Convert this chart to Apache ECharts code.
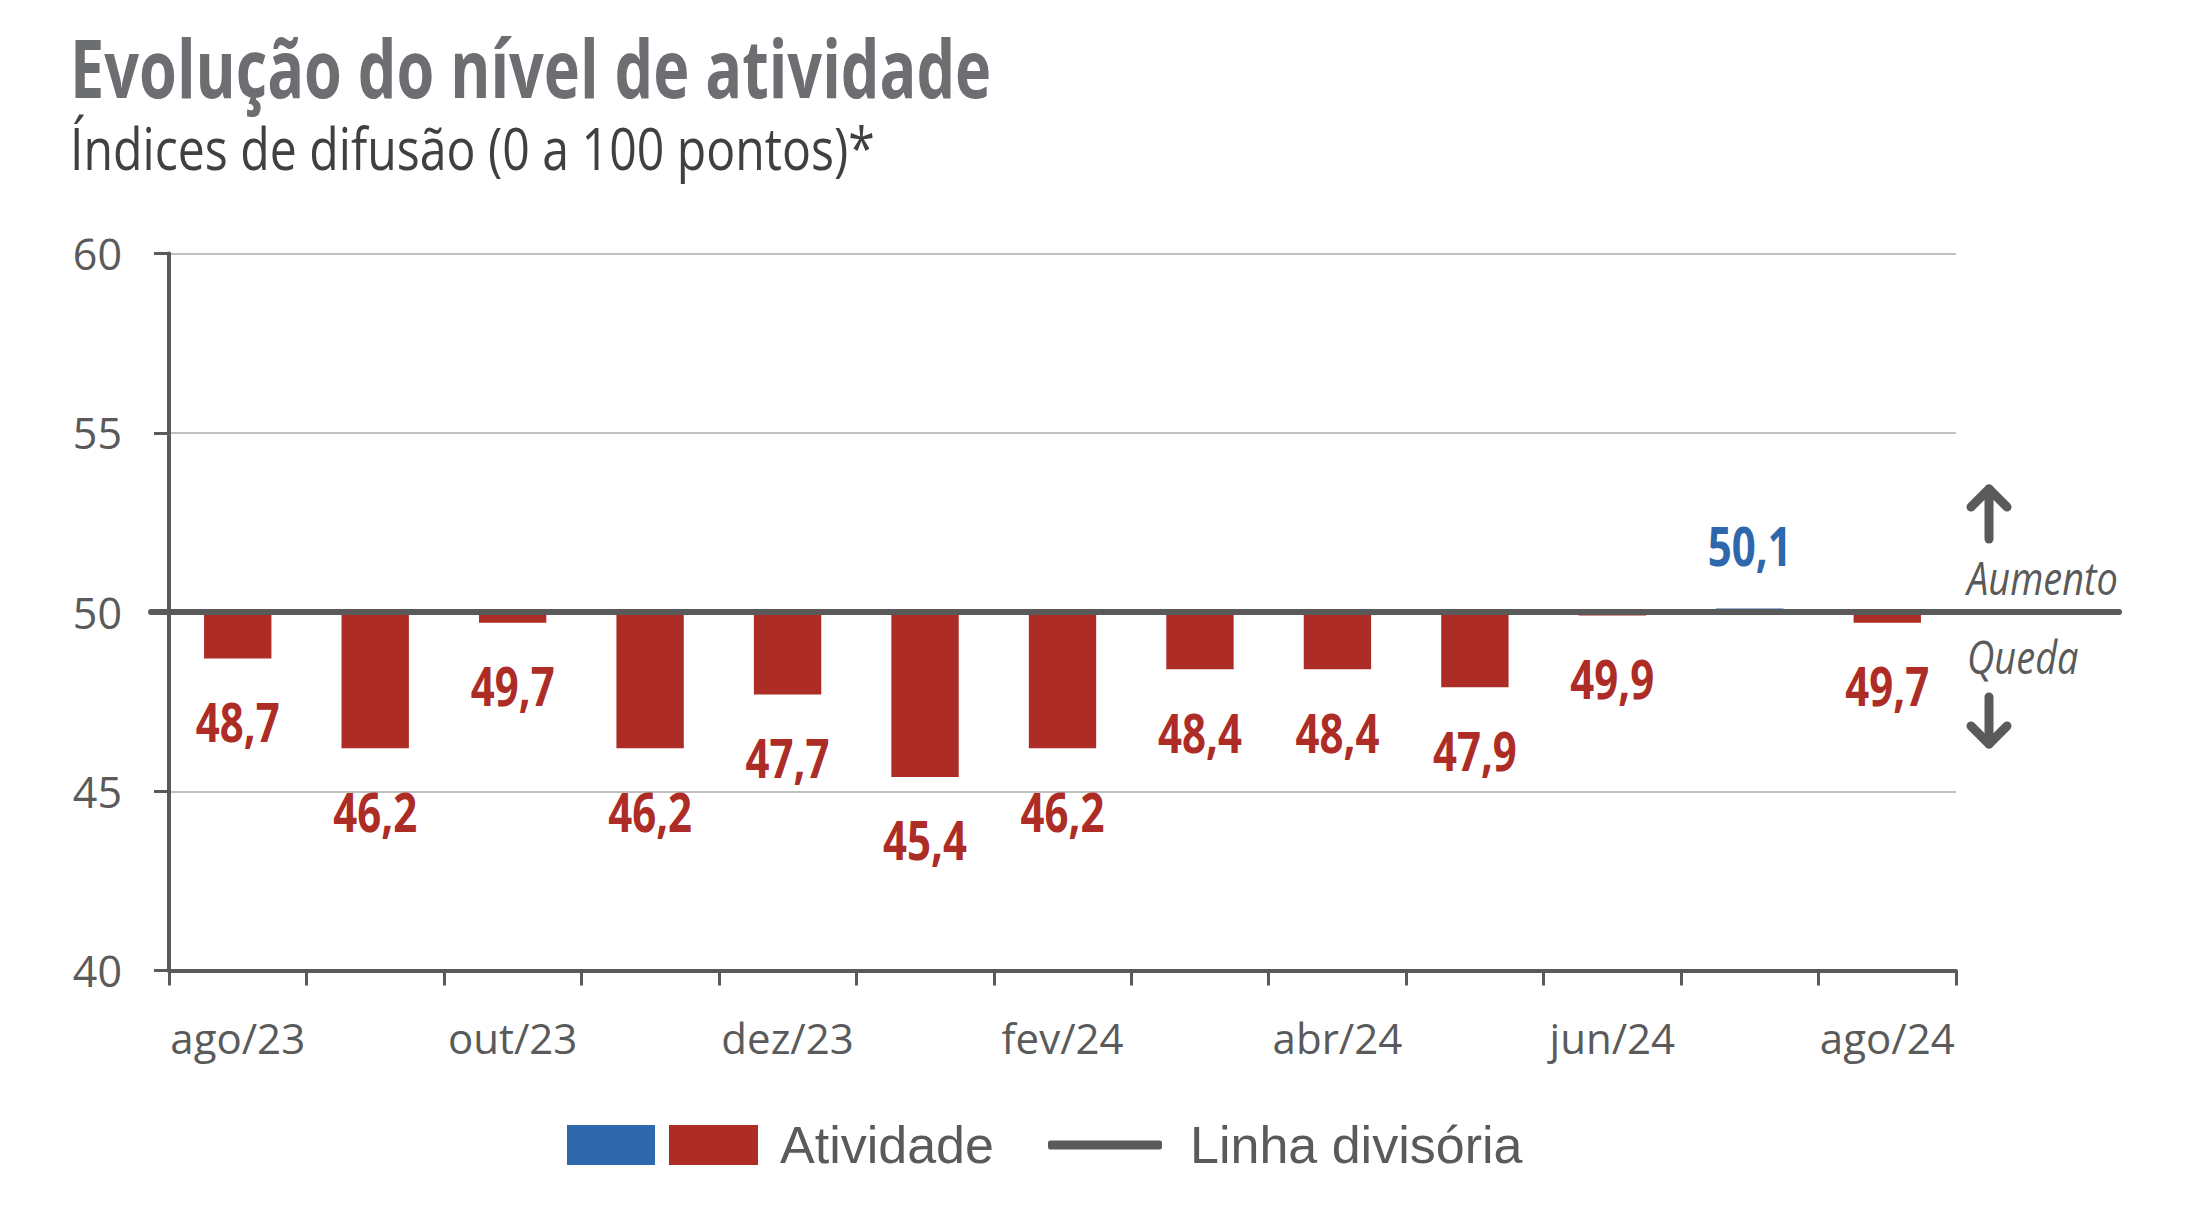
<!DOCTYPE html>
<html><head><meta charset="utf-8">
<script src="https://cdn.jsdelivr.net/npm/echarts@6/dist/echarts.min.js"></script>
<style>html,body{margin:0;padding:0;background:#fff}#c{width:2196px;height:1218px}</style>
</head><body><div id="c"></div>
<script>
const categories = ['ago/23','set/23','out/23','nov/23','dez/23','jan/24','fev/24','mar/24','abr/24','mai/24','jun/24','jul/24','ago/24'];
const atividade = [48.7,46.2,49.7,46.2,47.7,45.4,46.2,48.4,48.4,47.9,49.9,50.1,49.7];
const linhaDivisoria = 50;
const yMin = 40, yMax = 60, yStep = 5;

const RED = '#AD2C25', BLUE = '#2E67AC', GRAY = '#5A5A5A';
const HUM = '"Open Sans", "Noto Sans", sans-serif';
const SANS = '"Liberation Sans", Arial, sans-serif';

const mctx = document.createElement('canvas').getContext('2d');
function fit(text, font, target){
  mctx.font = font;
  const w = mctx.measureText(text).width;
  return w > 0 ? target / w : 1;
}
function fmt(v){ return v.toFixed(1).replace('.', ','); }

const LABEL_FONT = 'bold 53px ' + HUM;
const labelScale = fit('48,7', LABEL_FONT, 84);

function makeRender(color){
  return function(params, api){
    const i = api.value(0), v = api.value(1);
    if (isNaN(v)) return null;
    const p1 = api.coord([i, v]), p0 = api.coord([i, linhaDivisoria]);
    const w = api.size([1, 0])[0] * 0.49;
    const top = Math.min(p0[1], p1[1]), h = Math.abs(p1[1] - p0[1]);
    const above = v >= linhaDivisoria;
    return {type:'group', children:[
      {type:'rect', shape:{x:p1[0]-w/2, y:top, width:w, height:h}, style:{fill:color}},
      {type:'text', x:p1[0], y: above ? top-63 : top+h+63, scaleX:labelScale,
       style:{text:fmt(v), fill:color, font:LABEL_FONT, align:'center', verticalAlign:'middle'}}
    ]};
  };
}

const upData = [], downData = [];
atividade.forEach((v, i) => { (v >= linhaDivisoria ? upData : downData).push([i, v]); });

const TITLE = 'Evolução do nível de atividade';
const SUB = 'Índices de difusão (0 a 100 pontos)*';
const TITLE_FONT = 'bold 81px ' + HUM, SUB_FONT = '59px ' + HUM, NOTE_FONT = 'italic 46px ' + HUM;

const chart = echarts.init(document.getElementById('c'), null, {renderer:'svg'});
const arrowX = 1989;
const gridTop = 253.5, gridBottom = 247.5;
chart.setOption({
  animation:false,
  backgroundColor:'#fff',
  grid:[
    {left:169, right:240, top:gridTop, bottom:gridBottom},
    {left:151, right:77, top:gridTop, bottom:gridBottom}
  ],
  xAxis:[{
    type:'category', data:categories, boundaryGap:true, gridIndex:0,
    axisLine:{lineStyle:{color:GRAY, width:4}},
    axisTick:{show:true, interval:0, length:15, lineStyle:{color:GRAY, width:3}},
    axisLabel:{interval:1, margin:46, fontSize:42, fontFamily:HUM, color:GRAY},
    splitLine:{show:false}
  },{
    type:'value', gridIndex:1, min:0, max:1, show:false
  }],
  yAxis:[{
    type:'value', gridIndex:0, min:yMin, max:yMax, interval:yStep,
    axisLine:{show:true, lineStyle:{color:GRAY, width:4}},
    axisTick:{show:true, length:15, lineStyle:{color:GRAY, width:3}},
    axisLabel:{margin:47, fontSize:43, fontFamily:HUM, color:GRAY},
    splitLine:{show:true, lineStyle:{color:'#C0C0C0', width:2}}
  },{
    type:'value', gridIndex:1, min:yMin, max:yMax, show:false
  }],
  legend:[{
    data:['Aumento'], left:567, top:1125, padding:0, itemWidth:88, itemHeight:40, icon:'rect',
    formatter:function(){return '';}, selectedMode:false, textStyle:{fontSize:10}
  },{
    data:['Atividade'], left:669, top:1119, padding:0, itemWidth:89, itemHeight:40, icon:'rect', selectedMode:false,
    textStyle:{fontSize:52, fontFamily:SANS, color:GRAY, padding:[0,0,0,17]}
  },{
    data:['Linha divisória'], left:1048, top:1119, padding:0, itemWidth:114, itemHeight:9, icon:'roundRect', selectedMode:false,
    textStyle:{fontSize:52, fontFamily:SANS, color:GRAY, padding:[0,0,0,23]}
  }],
  series:[{
    name:'Aumento', type:'custom', data:upData, encode:{x:0, y:1}, renderItem:makeRender(BLUE),
    itemStyle:{color:BLUE}, z:2
  },{
    name:'Atividade', type:'custom', data:downData, encode:{x:0, y:1}, renderItem:makeRender(RED),
    itemStyle:{color:RED}, z:2
  },{
    name:'Linha divisória', type:'line', xAxisIndex:1, yAxisIndex:1, symbol:'none', z:5,
    data:[[0, linhaDivisoria],[1, linhaDivisoria]],
    lineStyle:{color:GRAY, width:6, cap:'round'}, itemStyle:{color:GRAY}
  }],
  graphic:[
    {type:'text', x:70, y:66, scaleX:fit(TITLE, TITLE_FONT, 922), style:{text:TITLE, font:TITLE_FONT, fill:'#6D6E71', verticalAlign:'middle'}},
    {type:'text', x:70, y:147, scaleX:fit(SUB, SUB_FONT, 805), style:{text:SUB, font:SUB_FONT, fill:'#404041', verticalAlign:'middle'}},
    {type:'polyline', shape:{points:[[arrowX, 539],[arrowX, 489]]}, style:{stroke:GRAY, lineWidth:9, lineCap:'round', fill:null}},
    {type:'polyline', shape:{points:[[arrowX-18, 507],[arrowX, 489],[arrowX+18, 507]]}, style:{stroke:GRAY, lineWidth:9, lineCap:'round', lineJoin:'round', fill:null}},
    {type:'text', x:1967, y:577, scaleX:fit('Aumento', NOTE_FONT, 151), style:{text:'Aumento', font:NOTE_FONT, fill:GRAY, verticalAlign:'middle'}},
    {type:'text', x:1967, y:656, scaleX:fit('Aumento', NOTE_FONT, 151), style:{text:'Queda', font:NOTE_FONT, fill:GRAY, verticalAlign:'middle'}},
    {type:'polyline', shape:{points:[[arrowX, 697],[arrowX, 744]]}, style:{stroke:GRAY, lineWidth:9, lineCap:'round', fill:null}},
    {type:'polyline', shape:{points:[[arrowX-18, 726],[arrowX, 744],[arrowX+18, 726]]}, style:{stroke:GRAY, lineWidth:9, lineCap:'round', lineJoin:'round', fill:null}}
  ]
});
</script></body></html>
